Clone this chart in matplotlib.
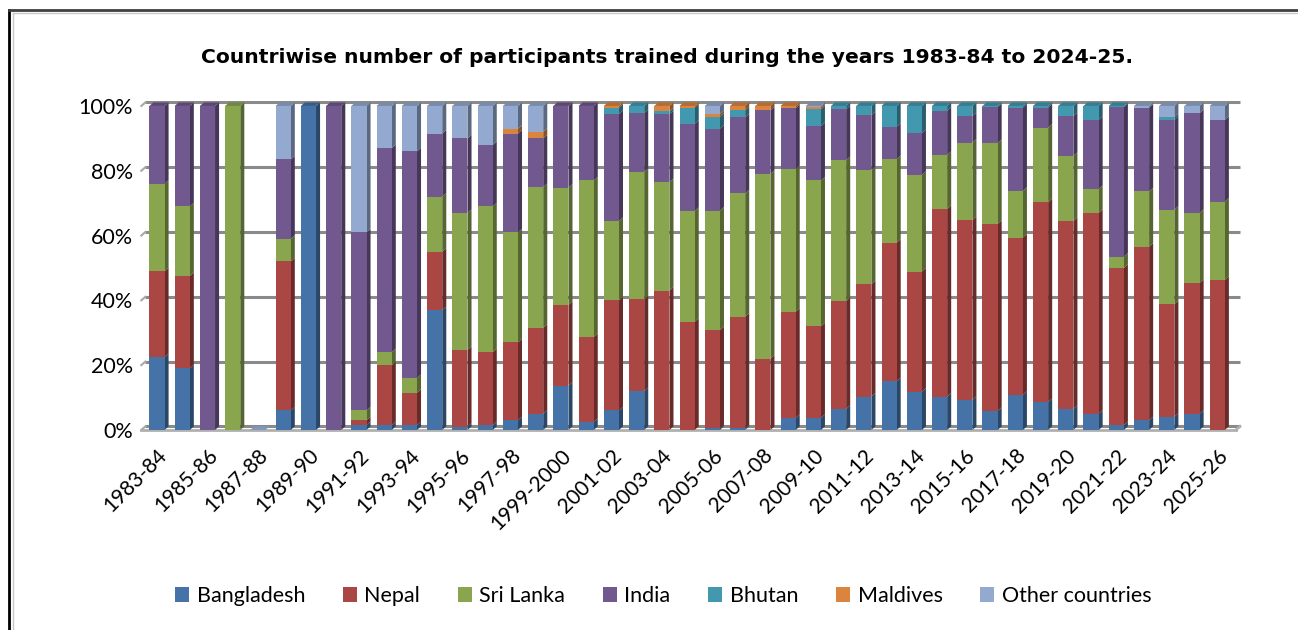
import numpy as np
import matplotlib
matplotlib.use("Agg")
import matplotlib.pyplot as plt
from matplotlib.patches import Polygon
from matplotlib.lines import Line2D
from matplotlib.colors import to_rgb
from matplotlib.transforms import ScaledTranslation

plt.rcParams['font.family'] = ['Lato', 'DejaVu Sans']

# years 1983-84 .. 2025-26
years = ["%d-%02d" % (y, (y + 1) % 100) for y in range(1983, 2026)]
years[16] = "1999-2000"

# share of participants (%) per country
bangladesh = [22.5, 19, 0, 0, 0, 6, 100, 0, 1.5, 1.5, 1.5, 37, 1, 1.5, 3, 5, 13.7, 2.5, 6, 12,
              0, 0, 0.5, 0.5, 0, 3.7, 3.7, 6.5, 10.3, 15, 11.8, 10.3, 9.3, 5.9, 10.8, 8.6, 6.5, 5,
              1.5, 3, 4.1, 5, 0]
nepal = [26.5, 28.5, 0, 0, 0, 46, 0, 0, 1.5, 18.5, 10, 18, 23.7, 22.5, 24, 26.5, 24.9, 26.2, 34, 28.4,
         43, 33.4, 30.3, 34.5, 22, 32.8, 28.3, 33.3, 34.7, 42.8, 37.1, 57.9, 55.5, 57.7, 48.6, 61.7, 58, 62,
         48.5, 53.6, 34.7, 40.4, 46.3]
sri_lanka = [27, 21.5, 0, 100, 0, 7, 0, 0, 3, 4, 4.5, 17, 42.3, 45, 34, 43.5, 36.2, 48.3, 24.5, 39.2,
             33.5, 34.2, 36.9, 38, 57, 44, 45, 43.5, 35.2, 25.8, 29.8, 16.7, 23.9, 25, 14.4, 23, 20.1, 7.4,
             3.5, 17, 29.2, 21.6, 24.2]
india = [24, 31, 100, 0, 0, 24.5, 0, 100, 55, 63, 70, 19.5, 23, 19, 30.5, 15, 25.2, 23, 33, 18.2,
         21, 26.9, 25.3, 23.5, 19.7, 18.8, 16.8, 15.7, 17, 10, 12.9, 13.6, 8.2, 11.1, 25.7, 6.2, 12.3, 21.3,
         46.2, 25.9, 27.7, 30.8, 25.2]
bhutan = [0, 0, 0, 0, 0, 0, 0, 0, 0, 0, 0, 0, 0, 0, 0, 0, 0, 0, 2, 2.2,
          0.8, 5, 3.7, 2.2, 0, 0, 5.2, 1, 2.8, 6.4, 8.4, 1.5, 3.1, 0.3, 0.5, 0.5, 3.1, 4.3,
          0.3, 0, 0.9, 0, 0]
maldives = [0, 0, 0, 0, 0, 0, 0, 0, 0, 0, 0, 0, 0, 0, 1.5, 2, 0, 0, 0.5, 0,
            1.7, 0.5, 0.8, 1.3, 1.3, 0.7, 0.6, 0, 0, 0, 0, 0, 0, 0, 0, 0, 0, 0,
            0, 0, 0, 0, 0]
others = [0, 0, 0, 0, 0, 16.5, 0, 0, 39, 13, 14, 8.5, 10, 12, 7, 8, 0, 0, 0, 0,
          0, 0, 2.5, 0, 0, 0, 0.4, 0, 0, 0, 0, 0, 0, 0, 0, 0, 0, 0,
          0, 0.5, 3.4, 2.2, 4.3]

series = [("Bangladesh", bangladesh, "#4572A7"),
          ("Nepal", nepal, "#AA4643"),
          ("Sri Lanka", sri_lanka, "#89A54E"),
          ("India", india, "#71588F"),
          ("Bhutan", bhutan, "#4198AF"),
          ("Maldives", maldives, "#DB843D"),
          ("Other countries", others, "#93A9CF")]

fig = plt.figure(figsize=(12.98, 6.3), dpi=100)
ax = fig.add_axes([0.1079, 0.315, 0.8513, 0.5245])

x = np.arange(len(years))
w = 0.6
dx, dy = 0.16, 1.1   # fake 3d depth


def shade(c, f):
    r, g, b = to_rgb(c)
    return (r * f, g * f, b * f)


# back wall gridlines
for g in range(0, 101, 20):
    ax.plot([-0.62 + dx, 42.9], [g + dy, g + dy], color="#8a8a8a", lw=2.2, zorder=1, solid_capstyle="butt")
    ax.plot([-0.62, -0.62 + dx], [g, g + dy], color="#a8a8a8", lw=1.5, zorder=1)
# floor
ax.plot([-0.62, 42.9 - dx], [0, 0], color="#b0b0b0", lw=2, zorder=1)
ax.plot([42.9 - dx, 42.9], [0, dy], color="#b0b0b0", lw=2, zorder=1)

bottom = np.zeros(len(years))
totals = np.sum([s[1] for s in series], axis=0)
for name, vals, col in series:
    vals = np.array(vals, dtype=float)
    ax.bar(x, vals, w, bottom=bottom, color=col, label=name, zorder=3, linewidth=0)
    for i in range(len(x)):
        if vals[i] <= 0:
            continue
        x1 = x[i] + w / 2
        y0, y1 = bottom[i], bottom[i] + vals[i]
        side = Polygon([(x1, y0), (x1 + dx, y0 + dy), (x1 + dx, y1 + dy), (x1, y1)],
                       closed=True, fc=shade(col, 0.62), ec="none", zorder=2.5)
        ax.add_patch(side)
        if abs(y1 - totals[i]) < 1e-6:
            top = Polygon([(x[i] - w / 2, y1), (x[i] - w / 2 + dx, y1 + dy),
                           (x1 + dx, y1 + dy), (x1, y1)],
                          closed=True, fc=shade(col, 0.82), ec="none", zorder=2.6)
            ax.add_patch(top)
    bottom += vals

# empty year 1987-88 shows a thin floor sliver
ax.add_patch(Polygon([(4 - w / 2, 0), (4 - w / 2 + dx, dy), (4 + w / 2 + dx, dy), (4 + w / 2, 0)],
                     closed=True, fc="#7f97bf", ec="none", zorder=2.6))

ax.set_xlim(-0.67, 43.1)
ax.set_ylim(-0.5, 101.5)
ax.set_yticks(range(0, 101, 20))
ax.set_yticklabels(["%d%%" % v for v in range(0, 101, 20)], fontsize=15.5)
ax.set_xticks(x[::2])
ax.set_xticklabels(years[::2], rotation=45, ha="right", rotation_mode="anchor", fontsize=15)
shift = ScaledTranslation(0.15, -0.02, fig.dpi_scale_trans)
for lab in ax.get_xticklabels():
    lab.set_transform(lab.get_transform() + shift)
ax.tick_params(axis="both", length=0)
ax.tick_params(axis="x", pad=10)
ax.tick_params(axis="y", pad=5)
for sp in ax.spines.values():
    sp.set_visible(False)

fig.text(0.514, 0.909, "Countriwise number of participants trained during the years 1983-84 to 2024-25.",
         ha="center", va="center", fontsize=14.6, fontweight="bold", family="DejaVu Sans")

fig.legend(loc="center", bbox_to_anchor=(0.511, 0.054), ncol=7, frameon=False, fontsize=15.5,
           handlelength=0.65, handleheight=0.65, handletextpad=0.35, columnspacing=1.75)

# chart frame
fig.add_artist(Line2D([9 / 1298, 9 / 1298], [0, 1 - 10 / 630], color="black", lw=2, transform=fig.transFigure))
fig.add_artist(Line2D([9 / 1298, 1], [1 - 10 / 630, 1 - 10 / 630], color="#404040", lw=2, transform=fig.transFigure))
fig.add_artist(Line2D([13 / 1298, 13 / 1298], [0, 1 - 13 / 630], color="#c8c8c8", lw=1, transform=fig.transFigure))
fig.add_artist(Line2D([13 / 1298, 1], [1 - 13 / 630, 1 - 13 / 630], color="#c8c8c8", lw=1, transform=fig.transFigure))

fig.savefig("out.png", dpi=100)
